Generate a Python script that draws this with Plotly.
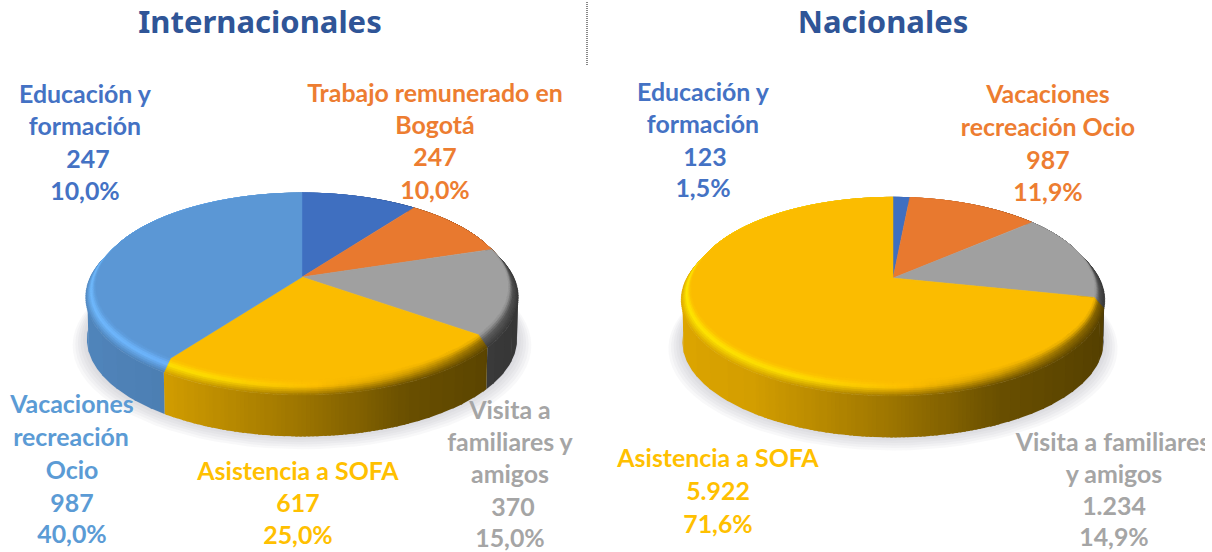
import math
import plotly.graph_objects as go

# ---------- data ----------
titles = ["Internacionales", "Nacionales"]
intl_categories = ["Educación y formación", "Trabajo remunerado en Bogotá",
                   "Visita a familiares y amigos", "Asistencia a SOFA", "Vacaciones recreación Ocio"]
intl_values = [247, 247, 370, 617, 987]
nat_categories = ["Educación y formación", "Vacaciones recreación Ocio",
                  "Visita a familiares y amigos", "Asistencia a SOFA"]
nat_values = [123, 987, 1234, 5922]

BLUE, ORANGE, GRAY, YELLOW, LBLUE = "#4472C4", "#ED7D31", "#A5A5A5", "#FFC000", "#5B9BD5"
FACE = {BLUE: (63, 111, 192), ORANGE: (232, 121, 47), GRAY: (160, 160, 160),
        YELLOW: (251, 188, 0), LBLUE: (91, 151, 213)}
intl_colors = [BLUE, ORANGE, GRAY, YELLOW, LBLUE]
nat_colors = [BLUE, ORANGE, GRAY, YELLOW]

intl_labels = [
    (BLUE, [("Educación y", 85, 94), ("formación", 85, 126), ("247", 88, 159), ("10,0%", 85, 191)]),
    (ORANGE, [("Trabajo remunerado en", 435, 93), ("Bogotá", 435, 125), ("247", 435, 157), ("10,0%", 435, 190)]),
    (GRAY, [("Visita a", 510, 410), ("familiares y", 510, 442), ("amigos", 510, 474), ("370", 513, 507), ("15,0%", 510, 538)]),
    (YELLOW, [("Asistencia a SOFA", 298, 471), ("617", 298, 503), ("25,0%", 298, 535)]),
    (LBLUE, [("Vacaciones", 72, 404), ("recreación", 71, 437), ("Ocio", 72, 470), ("987", 72, 503), ("40,0%", 72, 534)]),
]
nat_labels = [
    (BLUE, [("Educación y", 703, 92), ("formación", 703, 124), ("123", 705, 157), ("1,5%", 703, 188)]),
    (ORANGE, [("Vacaciones", 1048, 94), ("recreación Ocio", 1048, 127), ("987", 1048, 160), ("11,9%", 1048, 192)]),
    (GRAY, [("Visita a familiares", 1113, 442), ("y amigos", 1114, 474), ("1.234", 1114, 506), ("14,9%", 1114, 537)]),
    (YELLOW, [("Asistencia a SOFA", 718, 458), ("5.922", 718, 491), ("71,6%", 718, 524)]),
]

PIES = [
    dict(values=intl_values, names=intl_categories, colors=intl_colors, cx=302, cy=277, b=215, a=96.7, k=0.105),
    dict(values=nat_values, names=nat_categories, colors=nat_colors, cx=893, cy=278, b=210, a=94.5, k=0.125),
]
S, DY, WALL = 0.955, 10, 42
BAND_LAYERS = 8
STEP = 1.0
LABEL_SHIFT = 3


def lerp_table(t, table):
    for (t0, v0), (t1, v1) in zip(table, table[1:]):
        if t <= t1:
            return v0 + (v1 - v0) * (t - t0) / (t1 - t0)
    return table[-1][1]


WALL_F = [(-1.01, .88), (-.6, .84), (0, .62), (.45, .42), (1.01, .33)]
HIGH_F = [(-1.01, 1.24), (-.4, 1.18), (0, 1.04), (.45, .84), (.8, .6), (1.01, .5)]


def scale_rgb(c, f):
    return tuple(min(255, c[i] * f) for i in range(3))


def mix(c1, c2, u):
    return tuple(c1[i] + (c2[i] - c1[i]) * u for i in range(3))


def to_css(c):
    return "rgb(%d,%d,%d)" % tuple(int(round(v)) for v in c)


fig = go.Figure()


def proj(p, deg, scale=1.0, dy=0.0):
    r = math.radians(deg)
    X, Y = scale * math.sin(r), scale * math.cos(r)
    w = 1 + p["k"] * Y
    return p["cx"] + p["b"] * X / w, p["cy"] - p["a"] * Y / w + dy


def add_polys(groups):
    for css, (xs, ys) in groups.items():
        fig.add_trace(go.Scatter(x=xs, y=ys, mode="lines", fill="toself", fillcolor=css,
                                 line=dict(color=css, width=0.6), hoverinfo="skip", showlegend=False))


def draw_pie(p):
    total = sum(p["values"])
    # soft shadow beneath
    for i in range(6):
        g = 1 + i * 0.012
        xs, ys = [], []
        for d in range(0, 361, 4):
            x, y = proj(p, d, g, DY + WALL + i)
            xs.append(x)
            ys.append(y)
        fig.add_trace(go.Scatter(x=xs, y=ys, mode="lines", fill="toself", fillcolor="rgba(120,120,130,0.05)",
                                 line=dict(width=0), hoverinfo="skip", showlegend=False))
    spans = []
    a0 = 0.0
    for v, col in zip(p["values"], p["colors"]):
        a1 = a0 + 360.0 * v / total
        spans.append((a0, a1, FACE[col]))
        a0 = a1

    def slices(a0, a1):
        n = max(1, int(math.ceil((a1 - a0) / STEP)))
        return [(a0 + (a1 - a0) * i / n, a0 + (a1 - a0) * (i + 1) / n) for i in range(n)]

    # wall: runs of adjacent slices with one rounded shade, drawn overlapping so no seams show
    for a0, a1, col in spans:
        runs = []
        for s0, s1 in slices(a0, a1):
            mid = (s0 + s1) / 2
            if math.cos(math.radians(mid)) > 0.45:
                continue
            f = round(lerp_table(math.sin(math.radians(mid)), WALL_F) * 125) / 125
            if runs and runs[-1][2] == f:
                runs[-1][1] = s1
            else:
                runs.append([s0, s1, f])
        for r0, r1, f in runs:
            css = to_css(scale_rgb(col, f))
            end = min(r1 + 0.6, a1)
            n = max(1, int((end - r0) / 0.5))
            angs = [r0 + (end - r0) * i / n for i in range(n + 1)]
            pts = [proj(p, d, 1, DY) for d in angs] + [proj(p, d, 0.995, DY + WALL) for d in reversed(angs)]
            fig.add_trace(go.Scatter(x=[q[0] for q in pts] + [pts[0][0]], y=[q[1] for q in pts] + [pts[0][1]],
                                     mode="lines", fill="toself", fillcolor=css, line=dict(width=0),
                                     hoverinfo="skip", showlegend=False))
    # bevel band, outermost layer first
    for lay in range(BAND_LAYERS, 0, -1):
        u0, u1 = (lay - 1) / BAND_LAYERS, lay / BAND_LAYERS
        um = (u0 + u1) / 2
        groups = {}
        for a0, a1, col in spans:
            for s0, s1 in slices(a0, a1):
                mid = (s0 + s1) / 2
                t = round(math.sin(math.radians(mid)) * 40) / 40
                hi = scale_rgb(col, lerp_table(t, HIGH_F))
                wl = scale_rgb(col, lerp_table(t, WALL_F))
                c = mix(col, hi, um / 0.4) if um < 0.4 else mix(hi, wl, (um - 0.4) / 0.6)
                sc1 = S + (1 - S) * u1
                d1 = DY * u1
                pts = [proj(p, s0, sc1, d1), proj(p, s1, sc1, d1), proj(p, s1, S, 0), proj(p, s0, S, 0)]
                css = to_css(c)
                xs, ys = groups.setdefault(css, ([], []))
                xs += [q[0] for q in pts] + [pts[0][0], None]
                ys += [q[1] for q in pts] + [pts[0][1], None]
        add_polys(groups)
    # top faces
    for (a0, a1, col), v, name in zip(spans, p["values"], p["names"]):
        pts = [(p["cx"], p["cy"])]
        n = max(2, int((a1 - a0) / 1.5))
        pts += [proj(p, a0 + (a1 - a0) * i / n, S) for i in range(n + 1)]
        css = "rgb(%d,%d,%d)" % col
        fig.add_trace(go.Scatter(x=[q[0] for q in pts] + [pts[0][0]], y=[q[1] for q in pts] + [pts[0][1]],
                                 mode="lines", fill="toself", fillcolor=css, line=dict(color=css, width=0.5),
                                 name=name, text=f"{name}: {v}", hoverinfo="text", showlegend=False))


for p in PIES:
    draw_pie(p)

# labels, clipped by the plot area at the right edge
for col, lines in intl_labels + nat_labels:
    fig.add_trace(go.Scatter(x=[l[1] for l in lines], y=[l[2] + LABEL_SHIFT for l in lines], text=[l[0] for l in lines],
                             mode="text", textposition="middle center", cliponaxis=True,
                             textfont=dict(family="Lato", size=24.9, color=col, weight="bold"),
                             hoverinfo="skip", showlegend=False))

# titles
fig.add_trace(go.Scatter(x=[260, 883], y=[25, 25], text=titles, mode="text", textposition="middle center",
                         textfont=dict(family="Noto Sans", size=31, color="#2F5597", weight="bold"),
                         hoverinfo="skip", showlegend=False))

# dotted divider
fig.add_shape(type="line", x0=587, x1=587, y0=2, y1=65, line=dict(color="#111111", width=1, dash="1px,1px"))

fig.update_layout(width=1212, height=552, margin=dict(l=0, r=7, t=0, b=0),
                  paper_bgcolor="white", plot_bgcolor="white", showlegend=False,
                  xaxis=dict(range=[0, 1205], visible=False, fixedrange=True),
                  yaxis=dict(range=[552, 0], visible=False, fixedrange=True))
fig.write_html("out.html", post_script="document.body.style.margin='0';",
               config=dict(displayModeBar=False))
